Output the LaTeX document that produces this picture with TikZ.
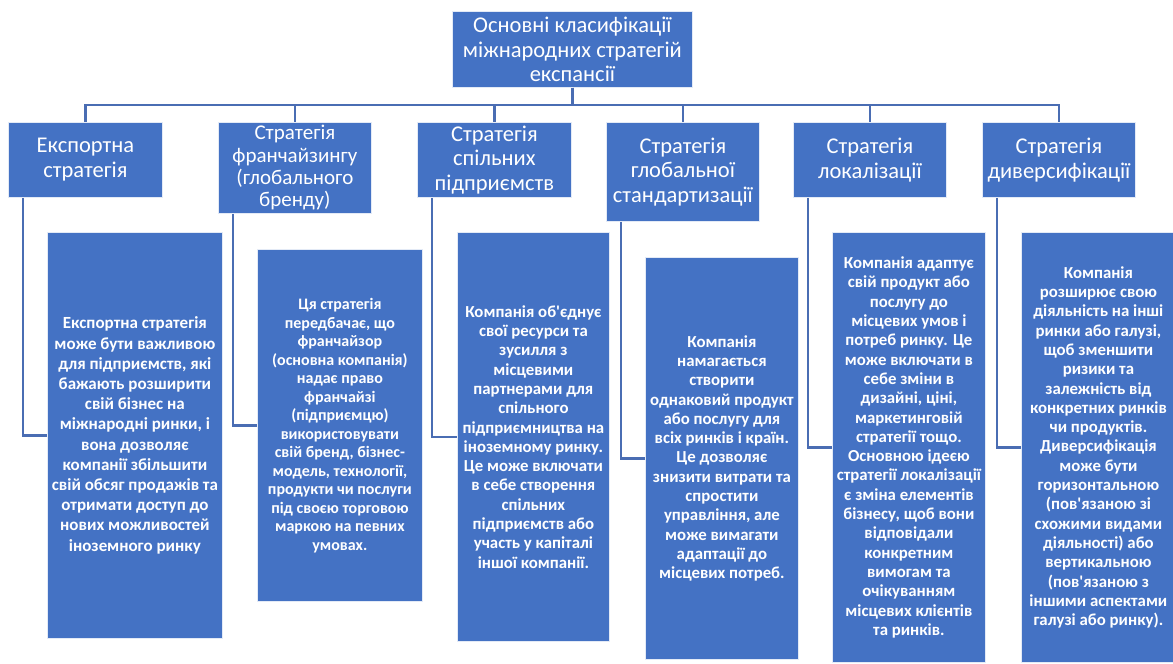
\documentclass[tikz,border=0pt]{standalone}
\usepackage{fontspec}
\setmainfont{Carlito}
\definecolor{boxblue}{HTML}{4472C4}
\definecolor{lineblue}{HTML}{4A6DB3}
\newcommand{\apos}{\textquotesingle}
\begin{document}
\begin{tikzpicture}[x=1pt,y=-1pt,
  box/.style={fill=boxblue,draw=white!85!boxblue,line width=0.8pt,text=white,align=center,inner sep=0pt,anchor=north west},
  headbox/.style={box,font=\fontsize{22.5}{24.7}\selectfont},
  detail/.style={box,font=\fontsize{16.8}{19.3}\selectfont\bfseries},
  conn/.style={draw=lineblue,line width=2.2pt}]
\useasboundingbox (0,0) rectangle (1173,664);
% top
\node[headbox,minimum width=240,minimum height=76] (top) at (452,11)
  {Основні класифікації\\міжнародних стратегій\\експансії};
% categories
\node[headbox,minimum width=154,minimum height=75] (c1) at (8,122) {Експортна\\стратегія};
\node[headbox,minimum width=153,minimum height=91,font=\fontsize{21}{22.3}\selectfont] (c2) at (218,122) {Стратегія\\франчайзингу\\(глобального\\бренду)};
\node[headbox,minimum width=154,minimum height=75] (c3) at (417,122) {Стратегія\\спільних\\підприємств};
\node[headbox,minimum width=153,minimum height=99] (c4) at (606,122) {Стратегія\\глобальної\\стандартизації};
\node[headbox,minimum width=153,minimum height=75] (c5) at (793,122) {Стратегія\\локалізації};
\node[headbox,minimum width=153,minimum height=75] (c6) at (982,122) {Стратегія\\диверсифікації};
% details
\node[detail,minimum width=175,minimum height=406,font=\fontsize{17}{20.2}\selectfont\bfseries] (d1) at (47,232)
  {Експортна стратегія\\може бути важливою\\для підприємств, які\\бажають розширити\\свій бізнес на\\міжнародні ринки, і\\вона дозволяє\\компанії збільшити\\свій обсяг продажів та\\отримати доступ до\\нових можливостей\\іноземного ринку};
\node[detail,minimum width=165,minimum height=352,font=\fontsize{16}{18.5}\selectfont\bfseries] (d2) at (257,249)
  {Ця стратегія\\передбачає, що\\франчайзор\\(основна компанія)\\надає право\\франчайзі\\(підприємцю)\\використовувати\\свій бренд, бізнес-\\модель, технології,\\продукти чи послуги\\під своєю торговою\\маркою на певних\\умовах.};
\node[detail,minimum width=152,minimum height=409] (d3) at (457,232)
  {Компанія об\apos{}єднує\\свої ресурси та\\зусилля з\\місцевими\\партнерами для\\спільного\\підприємництва на\\іноземному ринку.\\Це може включати\\в себе створення\\спільних\\підприємств або\\участь у капіталі\\іншої компанії.};
\node[detail,minimum width=153,minimum height=402] (d4) at (645,257)
  {Компанія\\намагається\\створити\\однаковий продукт\\або послугу для\\всіх ринків і країн.\\Це дозволяє\\знизити витрати та\\спростити\\управління, але\\може вимагати\\адаптації до\\місцевих потреб.};
\node[detail,minimum width=153,minimum height=430] (d5) at (832,232)
  {Компанія адаптує\\свій продукт або\\послугу до\\місцевих умов і\\потреб ринку. Це\\може включати в\\себе зміни в\\дизайні, ціні,\\маркетинговій\\стратегії тощо.\\Основною ідеєю\\стратегії локалізації\\є зміна елементів\\бізнесу, щоб вони\\відповідали\\конкретним\\вимогам та\\очікуванням\\місцевих клієнтів\\та ринків.};
\node[detail,minimum width=154,minimum height=430] (d6) at (1021,232)
  {Компанія\\розширює свою\\діяльність на інші\\ринки або галузі,\\щоб зменшити\\ризики та\\залежність від\\конкретних ринків\\чи продуктів.\\Диверсифікація\\може бути\\горизонтальною\\(пов\apos{}язаною зі\\схожими видами\\діяльності) або\\вертикальною\\(пов\apos{}язаною з\\іншими аспектами\\галузі або ринку).};
% bus connectors
\coordinate (bus) at (0,105);
\foreach \c in {c1,c2,c3,c4,c5,c6}
  \draw[conn] (top.south) -- (top.south |- bus) -| (\c.north);
% detail connectors
\foreach \i in {1,...,6}
  \draw[conn] ([xshift=15pt]c\i.south west) |- (d\i.west);
\end{tikzpicture}
\end{document}
